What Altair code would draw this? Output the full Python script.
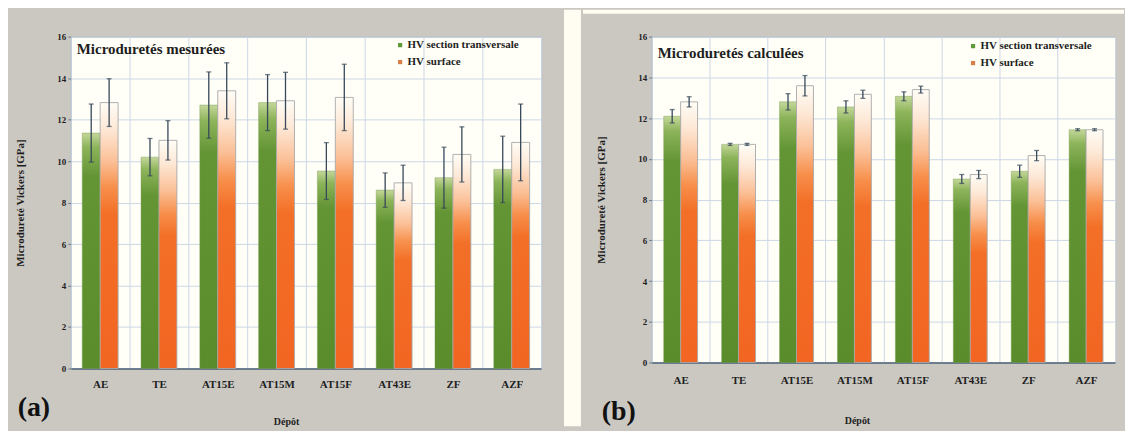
import altair as alt
import pandas as pd

# ---------------- data ----------------
cats = ["AE", "TE", "AT15E", "AT15M", "AT15F", "AT43E", "ZF", "AZF"]
series_names = ["HV section transversale", "HV surface"]

a_section = [11.35, 10.19, 12.70, 12.82, 9.52, 8.60, 9.20, 9.60]
a_section_err = [1.40, 0.90, 1.60, 1.35, 1.37, 0.83, 1.47, 1.60]
a_surface = [12.82, 11.00, 13.39, 12.91, 13.07, 8.95, 10.32, 10.90]
a_surface_err = [1.15, 0.95, 1.35, 1.37, 1.60, 0.85, 1.33, 1.85]

b_section = [12.09, 10.71, 12.80, 12.55, 13.07, 9.01, 9.39, 11.43]
b_section_err = [0.33, 0.05, 0.40, 0.30, 0.22, 0.22, 0.30, 0.05]
b_surface = [12.80, 10.71, 13.59, 13.17, 13.40, 9.23, 10.16, 11.43]
b_surface_err = [0.25, 0.05, 0.50, 0.20, 0.17, 0.20, 0.25, 0.05]

y_ticks = [0, 2, 4, 6, 8, 10, 12, 14, 16]

S1, S2 = series_names
FONT = "Liberation Serif"
GRAY = "#cbc8c2"
CREAM = "#fffcf1"
PLOT_BG = "#fffef7"
FRAME = "#9aa6b0"
GRID = "#cdd8e6"
ERR = "#36485a"
TXT = "#1e1e1e"


def frame(sec, sec_e, sur, sur_e):
    rows = []
    for i, c in enumerate(cats):
        rows.append(dict(cat=c, series=S1, value=sec[i], err=sec_e[i]))
        rows.append(dict(cat=c, series=S2, value=sur[i], err=sur_e[i]))
    df = pd.DataFrame(rows)
    df["lo"] = df["value"] - df["err"]
    df["hi"] = df["value"] + df["err"]
    df["half"] = df["value"] / 2
    return df


green_grad = alt.Gradient(
    gradient="linear", x1=0, x2=0, y1=0, y2=1,
    stops=[
        alt.GradientStop(offset=0, color="#c4d79a"),
        alt.GradientStop(offset=0.06, color="#8db45a"),
        alt.GradientStop(offset=0.18, color="#649535"),
        alt.GradientStop(offset=1, color="#5a8c2c"),
    ],
)
orange_grad = alt.Gradient(
    gradient="linear", x1=0, x2=0, y1=0, y2=1,
    stops=[
        alt.GradientStop(offset=0, color="#fffdf6"),
        alt.GradientStop(offset=0.1, color="#fde8d6"),
        alt.GradientStop(offset=0.22, color="#fbc097"),
        alt.GradientStop(offset=0.32, color="#f78f4b"),
        alt.GradientStop(offset=0.42, color="#f36f27"),
        alt.GradientStop(offset=1, color="#f26522"),
    ],
)


def panel(df, W, H, title, tag, lab_pad, xtitle_x, xtitle_y, title_y,
          legx, legy, tag_x, tag_y, off_pad, strips):
    xenc = alt.X(
        "cat:N", sort=cats,
        scale=alt.Scale(paddingInner=0, paddingOuter=0),
        axis=alt.Axis(
            title="Dépôt", labelAngle=0, ticks=False, tickSize=0,
            labelPadding=lab_pad, grid=True, tickBand="extent",
            gridColor=GRID, gridWidth=1, domainColor="#4f6274", domainWidth=1.5,
            labelFont=FONT, labelFontSize=11, labelFontWeight="bold", labelColor=TXT,
            titleFont=FONT, titleFontSize=10, titleFontWeight="bold", titleColor=TXT,
            titleX=xtitle_x, titleY=xtitle_y, titleBaseline="middle",
        ),
    )
    xoff = alt.XOffset(
        "series:N", sort=series_names,
        scale=alt.Scale(domain=series_names, paddingInner=0, paddingOuter=off_pad),
    )
    yscale = alt.Scale(domain=[0, 16], nice=False)
    yax = alt.Axis(
        title="Microdureté Vickers [GPa]", values=y_ticks, format="d",
        grid=True, gridColor=GRID, gridWidth=1, domain=False,
        ticks=True, tickSize=3, tickColor="#6a7a88", labelPadding=2,
        labelFont=FONT, labelFontSize=9, labelFontWeight="bold", labelColor=TXT,
        titleFont=FONT, titleFontSize=11, titleFontWeight="bold", titleColor=TXT,
        titleX=-50, titleY=H / 2, titleBaseline="middle",
    )
    ytitle = "Microdureté Vickers [GPa]"

    base = alt.Chart(df)

    legend_layer = base.mark_square(size=8, opacity=1).encode(
        x=xenc, xOffset=xoff,
        y=alt.Y("half:Q", scale=yscale, axis=yax, title=ytitle),
        color=alt.Color(
            "series:N",
            scale=alt.Scale(domain=series_names, range=["#5f9a3a", "#d9804a"]),
            legend=alt.Legend(
                orient="none", legendX=legx, legendY=legy, title=None,
                symbolType="square", symbolSize=18, symbolStrokeWidth=0,
                labelFont=FONT, labelFontSize=11, labelFontWeight="bold",
                labelColor=TXT, rowPadding=5, labelOffset=2, padding=0,
            ),
        ),
    )

    sec_bars = base.transform_filter(alt.datum.series == S1).mark_bar(
        fill=green_grad, stroke="#6f9a48", strokeWidth=0.4
    ).encode(
        x=xenc, xOffset=xoff,
        y=alt.Y("value:Q", scale=yscale, axis=yax, title=ytitle),
    )
    sur_bars = base.transform_filter(alt.datum.series == S2).mark_bar(
        fill=orange_grad, stroke="#a8a8a8", strokeWidth=0.9
    ).encode(
        x=xenc, xOffset=xoff,
        y=alt.Y("value:Q", scale=yscale, axis=yax, title=ytitle),
    )
    err_rule = base.mark_rule(color=ERR, strokeWidth=1.3).encode(
        x=xenc, xOffset=xoff,
        y=alt.Y("lo:Q", scale=yscale, axis=yax, title=ytitle),
        y2="hi:Q",
    )
    cap_hi = base.mark_tick(orient="horizontal", size=5, thickness=1.3, color=ERR).encode(
        x=xenc, xOffset=xoff,
        y=alt.Y("hi:Q", scale=yscale, axis=yax, title=ytitle),
    )
    cap_lo = base.mark_tick(orient="horizontal", size=5, thickness=1.3, color=ERR).encode(
        x=xenc, xOffset=xoff,
        y=alt.Y("lo:Q", scale=yscale, axis=yax, title=ytitle),
    )

    title_layer = alt.Chart(pd.DataFrame({"t": [title]})).mark_text(
        font=FONT, fontSize=15, fontWeight="bold", color=TXT,
        align="left", baseline="middle",
    ).encode(text="t:N", x=alt.value(6), y=alt.value(title_y))

    tag_layer = alt.Chart(pd.DataFrame({"t": [tag]})).mark_text(
        font=FONT, fontSize=28, fontWeight="bold", color="#111111",
        align="center", baseline="middle",
    ).encode(text="t:N", x=alt.value(tag_x), y=alt.value(tag_y))

    strip_layers = []
    for (x1, x2, y1, y2) in strips:
        strip_layers.append(
            alt.Chart(pd.DataFrame({"k": [0]})).mark_rect(color=CREAM).encode(
                x=alt.value(x1), x2=alt.value(x2), y=alt.value(y1), y2=alt.value(y2)
            )
        )

    return alt.layer(
        legend_layer, sec_bars, sur_bars, err_rule, cap_hi, cap_lo,
        title_layer, tag_layer, *strip_layers
    ).properties(width=W, height=H)


WA, HA = 472, 333
WB, HB = 465, 327

df_a = frame(a_section, a_section_err, a_surface, a_surface_err)
df_b = frame(b_section, b_section_err, b_surface, b_surface_err)

chart_a = panel(
    df_a, WA, HA, "Microduretés mesurées", "(a)",
    lab_pad=10, xtitle_x=216, xtitle_y=53, title_y=12,
    legx=325, legy=3, tag_x=-37, tag_y=HA + 40, off_pad=0.64,
    strips=[(WA + 23, WA + 40, -27, HA + 58)],
)
chart_b = panel(
    df_b, WB, HB, "Microduretés calculées", "(b)",
    lab_pad=12, xtitle_x=206, xtitle_y=58, title_y=16,
    legx=317, legy=4, tag_x=-33, tag_y=HB + 50, off_pad=0.71,
    strips=[(-69, WB + 9, -27, -23)],
)

chart = alt.hconcat(chart_a, chart_b, spacing=0).resolve_scale(
    color="independent", x="independent", y="independent", xOffset="independent"
).resolve_legend(color="independent").properties(
    background=GRAY,
    padding={"left": 6, "top": 0, "right": 0, "bottom": 3},
).configure_view(fill=PLOT_BG, stroke=FRAME, strokeWidth=1)

chart.save("out.html", embed_options={"renderer": "svg", "actions": False})
